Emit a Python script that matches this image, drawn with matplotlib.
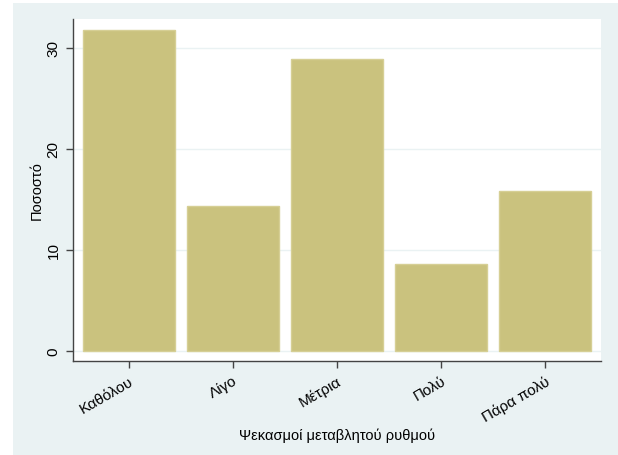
import numpy as np
import matplotlib.pyplot as plt
from matplotlib.patches import Rectangle

plt.rcParams['font.family'] = ['Liberation Sans', 'DejaVu Sans']

categories = ['Καθόλου', 'Λίγο', 'Μέτρια', 'Πολύ', 'Πάρα πολύ']
percent = [31.8, 14.4, 28.9, 8.6, 15.8]
yticks = [0, 10, 20, 30]

fig = plt.figure(figsize=(6.18, 4.56), dpi=100, facecolor='white')
# stata-like outer region
fig.patches.append(Rectangle((13/618, 0), 1 - 13/618, 1 - 4/456, transform=fig.transFigure,
                             facecolor='#EAF2F3', edgecolor='none', zorder=-5))

ax = fig.add_axes([73/618, 1 - 362/456, (601-73)/618, (362-20)/456])
ax.set_zorder(2)
ax.set_facecolor('white')

x = np.arange(len(categories))
ax.bar(x, percent, width=0.89, color='#CAC27E', edgecolor='#D6CF95', linewidth=1, zorder=3)

for t in yticks:
    ax.axhline(t, color='#EAF2F3', linewidth=1, zorder=1)

ax.set_xlim(-0.538, 4.538)
ax.set_ylim(-0.99, 32.87)
ax.set_yticks(yticks)
ax.set_yticklabels([str(t) for t in yticks], rotation=90, va='center', fontsize=11)
ax.set_xticks(x)
ax.set_xticklabels(categories, rotation=30, ha='right', rotation_mode='anchor', fontsize=11)
ax.tick_params(axis='both', length=5, width=1, color='#444444', pad=4)

for s in ['top', 'right']:
    ax.spines[s].set_visible(False)
for s in ['left', 'bottom']:
    ax.spines[s].set_color('#444444')
    ax.spines[s].set_linewidth(1)

ax.set_ylabel('Ποσοστό', fontsize=10.5, labelpad=2)
ax.set_xlabel('Ψεκασμοί μεταβλητού ρυθμού', fontsize=10.5, labelpad=3)

fig.savefig('out.png', dpi=100, facecolor='white')
